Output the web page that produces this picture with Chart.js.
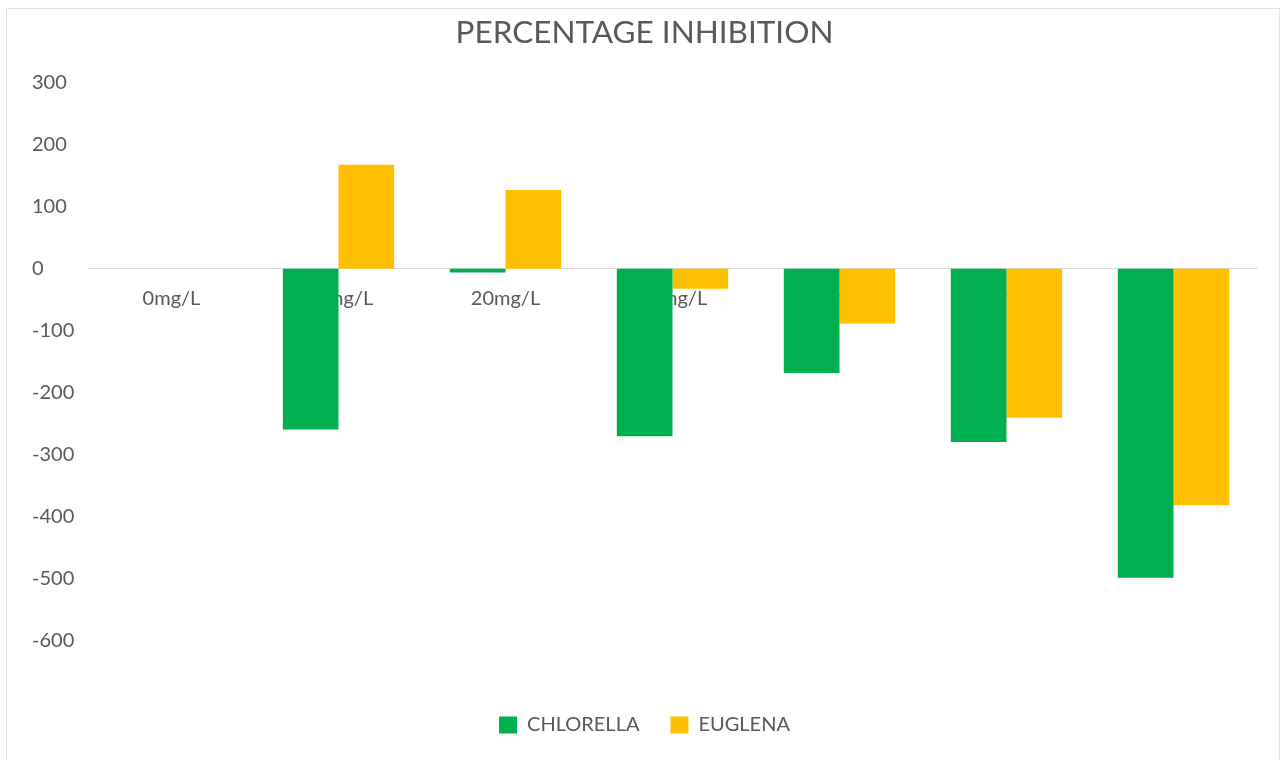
<!DOCTYPE html>
<html>
<head>
<meta charset="utf-8">
<title>Percentage Inhibition</title>
<script src="https://cdn.jsdelivr.net/npm/chart.js@4.4.1/dist/chart.umd.min.js"></script>
<style>
  html, body { margin: 0; padding: 0; background: #ffffff; overflow: hidden; }
  #frame {
    position: absolute;
    left: 6px;
    top: 8px;
    width: 1272px;
    height: 751px;
    border: 1px solid #e4e4e4;
    border-bottom: none;
    background: #ffffff;
  }
  #chart { display: block; }
</style>
</head>
<body>
<div id="frame"><canvas id="chart" width="1272" height="751"></canvas></div>
<script>
// Concentrations tested
const categories = ['0mg/L', '10mg/L', '20mg/L', '30mg/L', '40mg/L', '50mg/L', '60mg/L'];

// Percentage inhibition per organism
const chlorella = [0, -259, -6, -270, -168, -279, -498];
const euglena   = [0, 168, 127, -32, -88, -240, -381];

// Value axis range and step
const yMin = -600;
const yMax = 300;
const yStep = 100;

const textGray = '#595959';
const baseFont = 'Lato, "Open Sans", sans-serif';

const ctx = document.getElementById('chart').getContext('2d');

new Chart(ctx, {
  type: 'bar',
  data: {
    labels: categories,
    datasets: [
      {
        label: 'CHLORELLA',
        data: chlorella,
        backgroundColor: '#00B050',
        borderWidth: 0
      },
      {
        label: 'EUGLENA',
        data: euglena,
        backgroundColor: '#FFC000',
        borderWidth: 0
      }
    ]
  },
  options: {
    responsive: false,
    animation: false,
    devicePixelRatio: 1,
    layout: {
      padding: { left: 25, right: 22, top: 0, bottom: 15 }
    },
    datasets: {
      bar: {
        categoryPercentage: 0.667,
        barPercentage: 1.0
      }
    },
    scales: {
      x: {
        // category labels sit just under the zero line
        position: { y: 0 },
        grid: { display: false, drawTicks: false },
        border: { display: true, color: '#d9d9d9', width: 1 },
        ticks: {
          color: textGray,
          font: { family: baseFont, size: 20 },
          padding: 18,
          maxRotation: 0,
          autoSkip: false
        }
      },
      y: {
        min: yMin,
        max: yMax,
        grid: { display: false, drawTicks: false },
        border: { display: false },
        ticks: {
          stepSize: yStep,
          color: textGray,
          crossAlign: 'far',
          font: { family: baseFont, size: 20 }
        },
        afterFit: (scale) => { scale.width = 56; }
      }
    },
    plugins: {
      title: {
        display: true,
        text: 'PERCENTAGE INHIBITION',
        color: textGray,
        font: { family: baseFont, size: 31.5, weight: 'normal' },
        padding: { top: 5, bottom: 31 }
      },
      legend: {
        position: 'bottom',
        // empty legend title only reserves the gap above the legend row
        title: {
          display: true,
          text: '',
          font: { size: 10 },
          padding: { top: 31, bottom: 0 }
        },
        labels: {
          color: textGray,
          font: { family: baseFont, size: 20 },
          boxWidth: 18,
          boxHeight: 17,
          padding: 31
        }
      },
      tooltip: { enabled: false }
    }
  }
});
</script>
</body>
</html>
